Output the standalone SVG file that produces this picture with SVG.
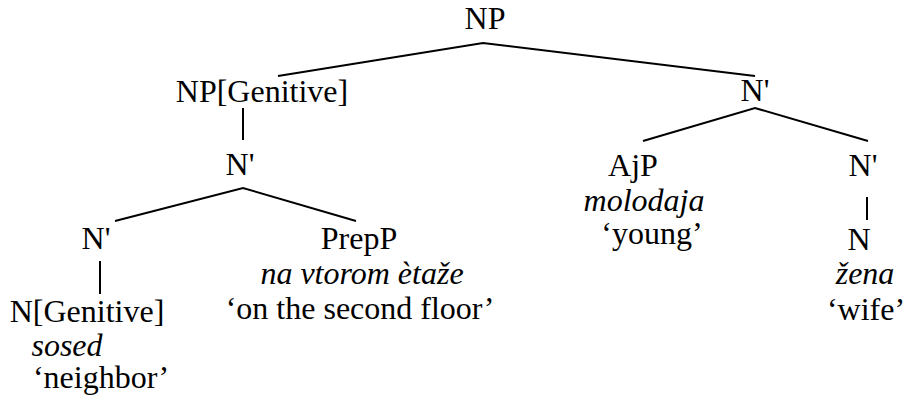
<svg xmlns="http://www.w3.org/2000/svg" width="914" height="403" viewBox="0 0 914 403">
  <style>
    .lbl { font-size: 32px; fill: #000; text-anchor: middle; }
    .it { font-style: italic; }
    .edge { stroke: #000; stroke-width: 2; fill: none; stroke-linecap: butt; }
  </style>
  <rect width="914" height="403" fill="#fff"/>

  <g id="connectors">
    <polyline class="edge" points="278,76 483,43 755,76"/>
    <line class="edge" x1="243" y1="108" x2="243" y2="140"/>
    <polyline class="edge" points="115,221 243,188 356,221"/>
    <line class="edge" x1="100" y1="261" x2="100" y2="294"/>
    <polyline class="edge" points="643,141 755,108 868,141"/>
    <line class="edge" x1="867" y1="197" x2="867" y2="220"/>
  </g>

  <g font-family="Liberation Serif, Times New Roman, serif">
    <g id="np-root"><text class="lbl" x="485" y="29">NP</text></g>
    <g id="np-genitive"><text class="lbl" x="262" y="102">NP[Genitive]</text></g>
    <g id="nbar-genitive"><text class="lbl" x="240" y="175">N'</text></g>
    <g id="nbar-left"><text class="lbl" x="96" y="249">N'</text></g>
    <g id="n-genitive">
      <text class="lbl" x="87" y="322">N[Genitive]</text>
      <text class="lbl it" x="67" y="356">sosed</text>
      <text class="lbl" x="101" y="388">‘neighbor’</text>
    </g>
    <g id="prepp">
      <text class="lbl" x="359" y="249">PrepP</text>
      <text class="lbl it" x="362" y="284">na vtorom ètaže</text>
      <text class="lbl" x="360" y="319">‘on the second floor’</text>
    </g>
    <g id="nbar-top"><text class="lbl" x="755" y="101">N'</text></g>
    <g id="ajp">
      <text class="lbl" x="633" y="176">AjP</text>
      <text class="lbl it" x="644" y="211">molodaja</text>
      <text class="lbl" x="652" y="244">‘young’</text>
    </g>
    <g id="nbar-right"><text class="lbl" x="863" y="176">N'</text></g>
    <g id="n-right">
      <text class="lbl" x="859" y="250">N</text>
      <text class="lbl it" x="865" y="284">žena</text>
      <text class="lbl" x="866" y="320">‘wife’</text>
    </g>
  </g>
</svg>
